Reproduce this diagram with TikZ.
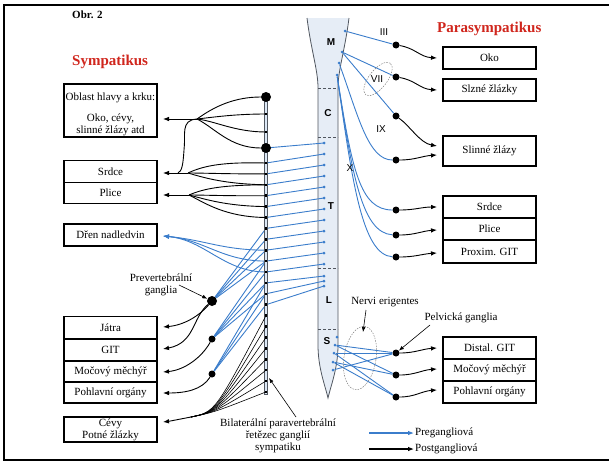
\documentclass[tikz,border=0pt]{standalone}
\usepackage{fontspec}
\setmainfont{Liberation Serif}
\newfontfamily\sansf{Liberation Sans}
\usetikzlibrary{arrows.meta}
\definecolor{nblue}{HTML}{3B7DCB}
\definecolor{tred}{HTML}{D0261D}
\definecolor{cordfill}{HTML}{E6EDF6}
\definecolor{cordline}{HTML}{50565F}
\begin{document}
\begin{tikzpicture}[x=1pt,y=-1pt,
  box/.style={draw, line width=1.1pt, minimum width=93pt, inner sep=0pt, align=center, font=\fontsize{11}{12}\selectfont},
  lbl/.style={inner sep=0pt, align=center, font=\fontsize{11}{12}\selectfont},
  rom/.style={inner sep=0pt, font=\sansf\fontsize{10}{10}\selectfont},
  seg/.style={inner sep=0pt, font=\sansf\bfseries\fontsize{10}{10}\selectfont},
  pre/.style={draw=nblue, line width=0.9pt},
  post/.style={draw=black, line width=0.9pt},
  arr/.style={-{Latex[length=6pt,width=4.6pt]}},
  thinarr/.style={draw=black, line width=0.6pt, -{Latex[length=5pt,width=3.8pt]}},
  gdot/.style={circle, fill=black, inner sep=0pt, minimum size=7pt},
  bigdot/.style={circle, fill=black, inner sep=0pt, minimum size=10pt},
  cdot/.style={circle, fill=nblue, inner sep=0pt, minimum size=3pt},
  sq/.style={rectangle, fill=black, inner sep=0pt, minimum size=2.6pt}
]
\useasboundingbox (0,0) rectangle (609,461);

% frame
\draw[line width=1.5pt] (4,5) -- (4,460);
\draw[line width=2.5pt] (3,5) -- (609,5);
\draw[line width=2.5pt] (3,460) -- (609,460);

% titles
\node[inner sep=0pt, anchor=west, font=\bfseries\fontsize{11}{12}\selectfont] (obr) at (72,15) {Obr. 2};
\node[inner sep=0pt, anchor=west, text=tred, font=\bfseries\fontsize{15}{16}\selectfont] (symp) at (72,62) {Sympatikus};
\node[inner sep=0pt, anchor=west, text=tred, font=\bfseries\fontsize{15}{16}\selectfont] (para) at (437,29) {Parasympatikus};

% spinal cord
\fill[cordfill] (307,18) .. controls (311,50) and (318,70) .. (318,88) -- (318,345) .. controls (318,368) and (325,385) .. (328,398) .. controls (331,385) and (338,368) .. (338,345) -- (338,88) .. controls (338,70) and (345,50) .. (349,18) -- cycle;
\draw[cordline, line width=0.8pt] (307,18) .. controls (311,50) and (318,70) .. (318,88) -- (318,345) .. controls (318,368) and (325,385) .. (328,398) .. controls (331,385) and (338,368) .. (338,345) -- (338,88) .. controls (338,70) and (345,50) .. (349,18);
\foreach \yy in {88,137,268,329} \draw[cordline, line width=0.7pt, dash pattern=on 3pt off 2pt] (318,\yy) -- (338,\yy);
\node[seg] (segM) at (331,42) {M};
\node[seg] (segC) at (328,113) {C};
\node[seg] (segT) at (331,206) {T};
\node[seg] (segL) at (329,300) {L};
\node[seg] (segS) at (327,341) {S};

% ---------------- left boxes
\node[box, minimum height=53pt] (oblast) at (110.5,110.5) {};
\node[lbl] (oblastT) at (110.5,114.5) {Oblast hlavy a krku:\\[9pt]Oko, cévy,\\slinné žlázy atd};
\node[box, minimum height=21.5pt] (srdceL) at (110.5,171.5) {Srdce};
\node[box, minimum height=21.5pt] (pliceL) at (110.5,193) {Plice};
\node[box, minimum height=22pt] (dren) at (110.5,235) {Dřen nadledvin};
\node[box, minimum height=22.5pt] (jatra) at (110.5,327.5) {Játra};
\node[box, minimum height=22pt] (gitL) at (110.5,350) {GIT};
\node[box, minimum height=21pt] (mocL) at (110.5,371.5) {Močový měchýř};
\node[box, minimum height=21pt] (pohL) at (110.5,392.5) {Pohlavní orgány};
\node[box, minimum height=25pt] (cevy) at (110.5,429.5) {Cévy\\Potné žlázky};

% ---------------- right boxes
\node[box, minimum height=22pt] (oko) at (489.5,58) {Oko};
\node[box, minimum height=22pt] (slzne) at (489.5,90) {Slzné žlázky};
\node[box, minimum height=30pt] (slinne) at (489.5,151) {Slinné žlázy};
\node[box, minimum height=22pt] (srdceR) at (489.5,207) {Srdce};
\node[box, minimum height=22pt] (pliceR) at (489.5,229) {Plice};
\node[box, minimum height=23pt] (proxim) at (489.5,251.5) {Proxim. GIT};
\node[box, minimum height=22pt] (distal) at (489.5,348) {Distal. GIT};
\node[box, minimum height=22pt] (mocR) at (489.5,370) {Močový měchýř};
\node[box, minimum height=22pt] (pohR) at (489.5,392) {Pohlavní orgány};

% ---------------- sympathetic chain coordinates
\coordinate (chTop) at (266,97);
\coordinate (ca) at (266,114);
\coordinate (cb) at (266,132);
\foreach \k in {0,...,21} {
  \pgfmathsetmacro\yy{163+10.9*\k}
  \coordinate (c\k) at (266,\yy);
}
% cord dots (sympathetic)
\foreach \j/\yy in {0/143,1/154,2/165,3/176,4/187,5/198,6/209,7/220,8/231,9/242,10/253,11/264,12/276,13/281,14/286}
  \coordinate (cdc\j) at (324,\yy);

% preganglionic cord -> chain
\draw[pre] (cdc0) -- (266,148);
\foreach \j in {1,...,11} {
  \pgfmathtruncatemacro\k{\j-1}
  \draw[pre] (cdc\j) -- (c\k);
}
\draw[pre] (cdc12) -- (c11);
\draw[pre] (cdc13) -- (c12);
\draw[pre] (cdc14) -- (c13);

% ganglia (prevertebral)
\node[bigdot] (G1) at (212,301) {};
\node[gdot] (G2) at (212,339) {};
\node[gdot] (G3) at (212,374) {};

% tips on the left
\coordinate (tOblast) at (163,119);
\coordinate (tSrdce) at (163,173);
\coordinate (tPlice) at (163,195);
\coordinate (tDren) at (163,236);
\coordinate (tJatra) at (163,327);
\coordinate (tGIT) at (163,349);
\coordinate (tMoc) at (163,372);
\coordinate (tPoh) at (163,393);
\coordinate (tCevy) at (163,422);

% preganglionic through the chain
\draw[pre,arr] (c8) .. controls (222,250) and (205,240) .. (tDren);
\draw[pre,arr] (c9) .. controls (222,261) and (205,240) .. (tDren);
\draw[pre,arr] (c10) .. controls (224,272) and (205,240) .. (tDren);
\foreach \k in {6,7,8,9} \draw[pre] (c\k) -- (G1);
\foreach \k in {9,10,11,12} \draw[pre] (c\k) -- (G2);
\foreach \k in {11,12,13} \draw[pre] (c\k) -- (G3);

% chain itself
\draw[cordline, fill=nblue!18, line width=0.4pt] (264.6,97) rectangle (267.4,394);
\node[sq] (sqa) at (ca) {};
\node[sq] (sqb) at (cb) {};
\foreach \k in {0,...,21} \node[sq] (sq\k) at (c\k) {};
\node[bigdot] (H1) at (chTop) {};
\node[bigdot] (H2) at (266,148) {};

% cord dots drawn on top
\foreach \j in {0,...,14} \node[cdot] (dc\j) at (cdc\j) {};

% ---------------- postganglionic sympathetic
\coordinate (J1) at (197,119);
\coordinate (J2) at (188,173);
\coordinate (J3) at (189,195);
\coordinate (J4) at (191,417);
\draw[post] (H1) .. controls (235,97) and (215,106) .. (J1);
\draw[post] (ca) .. controls (235,114) and (215,117) .. (J1);
\draw[post] (cb) .. controls (235,132) and (215,121) .. (J1);
\draw[post] (H2) .. controls (230,148) and (215,128) .. (J1);
\draw[post,arr] (J1) -- (tOblast);
\draw[post] (J1) .. controls (180,120) and (186,135) .. (184,150) .. controls (183,165) and (182,171) .. (178,173);

\draw[post] (c0) .. controls (225,162) and (205,165) .. (J2);
\draw[post] (c1) .. controls (225,174) and (205,173) .. (J2);
\draw[post] (c2) .. controls (225,184) and (205,178) .. (J2);
\draw[post,arr] (J2) -- (tSrdce);

\draw[post] (c2) .. controls (225,185) and (205,188) .. (J3);
\draw[post] (c3) .. controls (225,196) and (205,195) .. (J3);
\draw[post] (c4) .. controls (225,206) and (205,199) .. (J3);
\draw[post] (c5) .. controls (225,217) and (205,203) .. (J3);
\draw[post,arr] (J3) -- (tPlice);

\draw[post,arr] (G1) .. controls (200,315) and (185,325) .. (tJatra);
\draw[post,arr] (G1) .. controls (192,318) and (195,343) .. (tGIT);
\draw[post,arr] (G2) .. controls (202,357) and (185,370) .. (tMoc);
\draw[post,arr] (G3) .. controls (202,390) and (185,393) .. (tPoh);

\foreach \k in {14,...,21} \draw[post, line width=0.6pt] (c\k) .. controls (215,412) .. (J4);
\draw[post,arr] (J4) .. controls (180,420) .. (tCevy);

% labels left
\node[lbl] (prevT) at (161,284.5) {Prevertebrální\\ganglia};
\coordinate (prevA) at (179,285);
\draw[thinarr] (prevA) -- (G1);
\node[lbl] (bilat) at (278,436) {Bilaterální paravertebrální\\řetězec ganglií\\sympatiku};
\coordinate (bilA) at (296,417);
\coordinate (bilB) at (269,378);
\draw[thinarr] (bilA) -- (bilB);

% ---------------- parasympathetic
\node[cdot] (P1) at (345,31) {};
\node[cdot] (P2) at (342,52) {};
\node[cdot] (P3) at (339,63) {};
\node[cdot] (P4) at (337,75) {};
\node[gdot] (GIII) at (396,45) {};
\node[gdot] (GVII) at (396,77) {};
\node[gdot] (GS1) at (396,116) {};
\node[gdot] (GIX) at (396,160) {};
\node[gdot] (GX1) at (396,210) {};
\node[gdot] (GX2) at (396,235) {};
\node[gdot] (GX3) at (396,257) {};

\draw[pre] (P1) -- (GIII);
\draw[pre] (P2) -- (GVII);
\draw[pre] (P2) -- (GS1);
\draw[pre] (P3) .. controls (358,115) and (368,160) .. (GIX);
\draw[pre] (P4) .. controls (352,170) and (360,210) .. (GX1);
\draw[pre] (P4) .. controls (352,175) and (362,233) .. (GX2);
\draw[pre] (P4) .. controls (352,180) and (362,255) .. (GX3);

\coordinate (tOko) at (437,58);
\coordinate (tSlz) at (437,90);
\coordinate (tSl1) at (437,146);
\coordinate (tSl2) at (437,155);
\coordinate (tSrR) at (437,207);
\coordinate (tPlR) at (437,230);
\coordinate (tPrR) at (437,253);
\draw[post,arr] (GIII) .. controls (415,48) and (420,57) .. (tOko);
\draw[post,arr] (GVII) .. controls (415,80) and (420,89) .. (tSlz);
\draw[post,arr] (GS1) .. controls (410,126) and (420,143) .. (tSl1);
\draw[post,arr] (GIX) .. controls (415,160) and (422,156) .. (tSl2);
\draw[post,arr] (GX1) .. controls (415,210) and (422,207) .. (tSrR);
\draw[post,arr] (GX2) .. controls (415,235) and (422,231) .. (tPlR);
\draw[post,arr] (GX3) .. controls (415,257) and (422,254) .. (tPrR);

\node[rom] (rIII) at (384,32) {III};
\node[rom] (rVII) at (377,79) {VII};
\node[rom] (rIX) at (381,129) {IX};
\node[rom] (rX) at (350,168) {X};
\draw[gray, line width=0.5pt, dash pattern=on 1.5pt off 1.2pt] (378,79) ellipse [x radius=20pt, y radius=9pt, rotate=52];

% sacral
\node[cdot] (S1) at (337,337) {};
\node[cdot] (S2) at (335,345) {};
\node[cdot] (S3) at (334,353) {};
\node[cdot] (S4) at (333,362) {};
\node[cdot] (S5) at (333,370) {};
\node[gdot] (PG1) at (396,353) {};
\node[gdot] (PG2) at (396,375) {};
\node[gdot] (PG3) at (396,397) {};
\draw[pre] (S2) -- (PG1);
\draw[pre] (S2) -- (PG2);
\draw[pre] (S3) -- (PG1);
\draw[pre] (S3) -- (PG3);
\draw[pre] (S4) -- (PG2);
\draw[pre] (S4) -- (PG3);
\draw[pre] (S5) -- (PG1);
\coordinate (tDi) at (437,348);
\coordinate (tMo) at (437,369);
\coordinate (tPo) at (437,390);
\draw[post,arr] (PG1) .. controls (415,353) and (422,349) .. (tDi);
\draw[post,arr] (PG2) .. controls (415,375) and (422,370) .. (tMo);
\draw[post,arr] (PG3) .. controls (415,397) and (422,391) .. (tPo);

\draw[gray, line width=0.5pt, dash pattern=on 1.5pt off 1.2pt] (360,358) ellipse [x radius=16pt, y radius=32pt, rotate=-9];
\node[lbl] (nervi) at (385,302) {Nervi erigentes};
\node[lbl] (pelv) at (461,318) {Pelvická ganglia};
\coordinate (nA) at (366,310);
\coordinate (nB) at (363,332);
\draw[thinarr] (nA) -- (nB);
\coordinate (pA) at (430,325);
\draw[thinarr] (pA) -- (PG1);

% legend
\coordinate (l1a) at (369,433);
\coordinate (l1b) at (414,433);
\coordinate (l2a) at (369,449);
\coordinate (l2b) at (414,449);
\draw[pre, line width=1.1pt, -{Latex[length=6pt,width=4.6pt]}] (l1a) -- (l1b);
\draw[post, line width=1.1pt, -{Latex[length=6pt,width=4.6pt]}] (l2a) -- (l2b);
\node[lbl, anchor=west] (legPre) at (415,433) {Pregangliová};
\node[lbl, anchor=west] (legPost) at (415,449) {Postgangliová};
\end{tikzpicture}
\end{document}
